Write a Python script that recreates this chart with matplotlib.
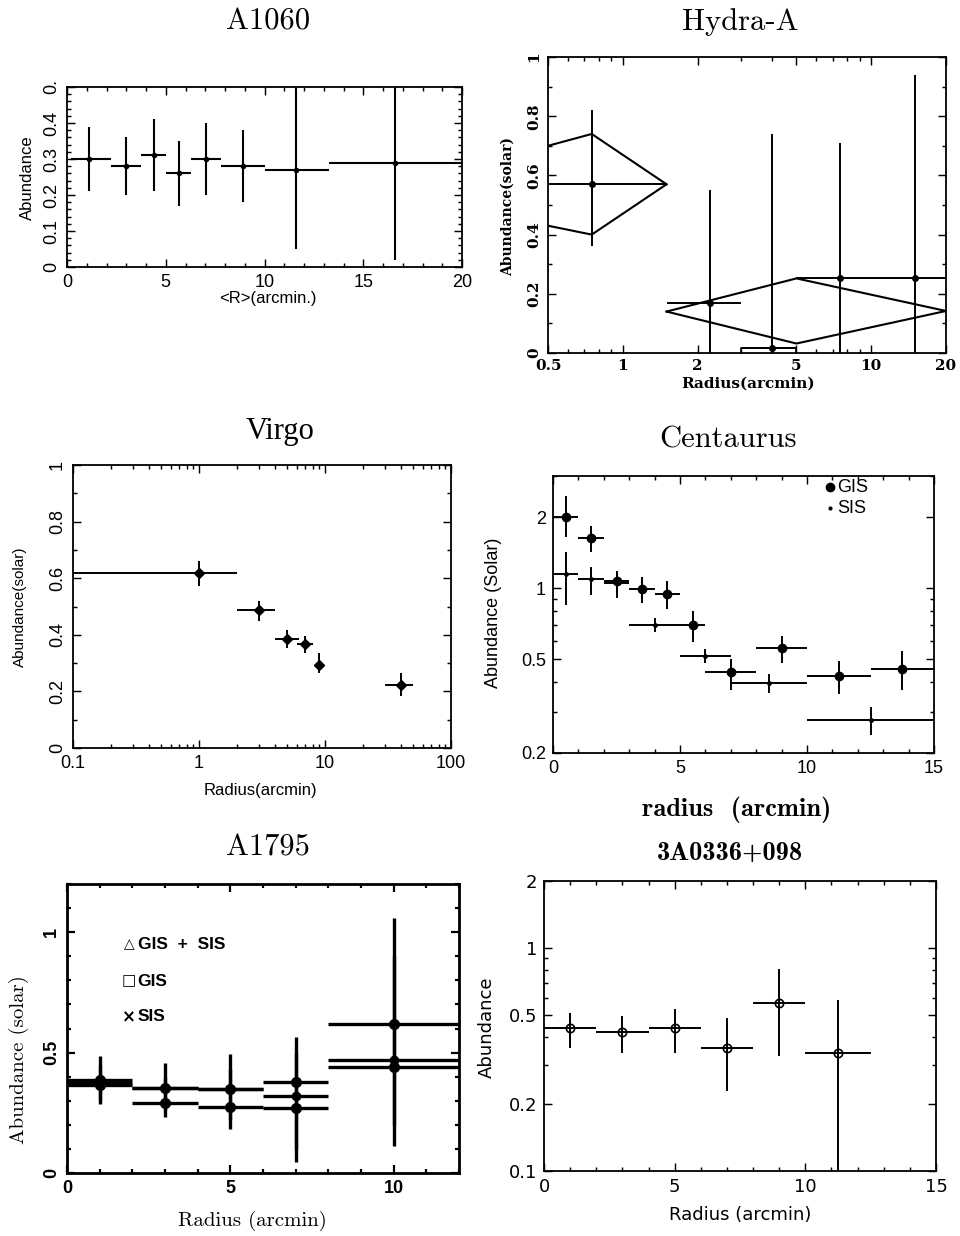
"""
Six abundance-profile panels (A1060, Hydra-A, Virgo, Centaurus, A1795, 3A0336+098).
Values read off a scanned figure; each panel is placed at its pixel box.
"""
import matplotlib

matplotlib.use("Agg")
import matplotlib.pyplot as plt
import numpy as np
from matplotlib.ticker import LogLocator, MultipleLocator, NullFormatter

W, H = 960, 1236
plt.rcParams["font.family"] = ["Liberation Sans", "DejaVu Sans"]

# ---- A1060 ----------------------------------------------------------------- #
a1060_r = [1.1, 3.0, 4.4, 5.65, 7.05, 8.9, 11.6, 16.6]
a1060_ab = [0.30, 0.28, 0.31, 0.26, 0.30, 0.28, 0.27, 0.29]
a1060_rlo = [0.2, 2.25, 3.75, 5.0, 6.3, 7.8, 10.05, 13.25]
a1060_rhi = [2.25, 3.75, 5.0, 6.3, 7.8, 10.05, 13.25, 20.0]
a1060_lo = [0.21, 0.20, 0.21, 0.17, 0.20, 0.18, 0.05, 0.02]
a1060_hi = [0.39, 0.36, 0.41, 0.35, 0.40, 0.38, 0.50, 0.55]
a1060_yticks = [0, 0.1, 0.2, 0.3, 0.4, 0.5]
a1060_ylabels = ["0", "0.1", "0.2", "0.3", "0.4", "0."]

# ---- Hydra-A --------------------------------------------------------------- #
hyd_r = [0.75, 2.25, 4.0, 7.5, 15.0]
hyd_ab = [0.57, 0.17, 0.017, 0.252, 0.252]
hyd_rlo = [0.5, 1.5, 3.0, 5.0, 10.0]
hyd_rhi = [1.5, 3.0, 5.0, 10.0, 20.0]
hyd_lo = [0.36, 0.0, 0.0, 0.0, 0.0]
hyd_hi = [0.82, 0.55, 0.74, 0.71, 0.94]
# model envelopes (upper / lower curves)
hyd_env1_r = [0.5, 0.75, 1.5]
hyd_env1_up = [0.70, 0.74, 0.57]
hyd_env1_dn = [0.43, 0.40, 0.57]
hyd_env2_r = [1.5, 5.0, 20.0]
hyd_env2_up = [0.14, 0.252, 0.142]
hyd_env2_dn = [0.14, 0.032, 0.142]
hyd_xticks = [0.5, 1, 2, 5, 10, 20]
hyd_xlabels = ["0.5", "1", "2", "5", "10", "20"]
hyd_yticks = [0, 0.2, 0.4, 0.6, 0.8, 1.0]
hyd_ylabels = ["0", "0.2", "0.4", "0.6", "0.8", "1"]

# ---- Virgo ----------------------------------------------------------------- #
vir_r = [1.0, 3.0, 5.0, 7.0, 9.0, 40.0]
vir_ab = [0.62, 0.488, 0.386, 0.366, 0.294, 0.222]
vir_rlo = [0.1, 2.0, 4.0, 6.0, 8.5, 30.0]
vir_rhi = [2.0, 4.0, 6.2, 8.0, 9.5, 50.0]
vir_lo = [0.571, 0.448, 0.354, 0.335, 0.266, 0.182]
vir_hi = [0.661, 0.518, 0.416, 0.394, 0.335, 0.265]
vir_xticks = [0.1, 1, 10, 100]
vir_xlabels = ["0.1", "1", "10", "100"]
vir_yticks = [0, 0.2, 0.4, 0.6, 0.8, 1.0]
vir_ylabels = ["0", "0.2", "0.4", "0.6", "0.8", "1"]

# ---- Centaurus ------------------------------------------------------------- #
cen_gis_r = [0.5, 1.5, 2.5, 3.5, 4.5, 5.5, 7.0, 9.0, 11.25, 13.75]
cen_gis_ab = [2.0, 1.63, 1.07, 0.995, 0.95, 0.70, 0.44, 0.56, 0.425, 0.455]
cen_gis_rlo = [0, 1, 2, 3, 4, 5, 6, 8, 10, 12.5]
cen_gis_rhi = [1, 2, 3, 4, 5, 6, 8, 10, 12.5, 15]
cen_gis_lo = [1.65, 1.43, 0.91, 0.87, 0.82, 0.59, 0.37, 0.48, 0.357, 0.37]
cen_gis_hi = [2.46, 1.84, 1.19, 1.12, 1.08, 0.80, 0.50, 0.63, 0.49, 0.54]
cen_sis_r = [0.5, 1.5, 2.5, 4.0, 6.0, 8.5, 12.5]
cen_sis_ab = [1.15, 1.10, 1.05, 0.70, 0.517, 0.396, 0.275]
cen_sis_rlo = [0, 1, 2, 3, 5, 7, 10]
cen_sis_rhi = [1, 2, 3, 5, 7, 10, 15]
cen_sis_lo = [0.85, 0.94, 0.92, 0.65, 0.48, 0.36, 0.238]
cen_sis_hi = [1.43, 1.23, 1.17, 0.75, 0.555, 0.435, 0.313]
cen_yticks = [0.2, 0.5, 1, 2]
cen_ylabels = ["0.2", "0.5", "1", "2"]

# ---- A1795 ----------------------------------------------------------------- #
a1795_r = [1, 3, 5, 7, 10]
a1795_rlo = [0, 2, 4, 6, 8]
a1795_rhi = [2, 4, 6, 8, 12]
a1795_both = [0.375, 0.352, 0.349, 0.321, 0.470]
a1795_gis = [0.385, 0.352, 0.349, 0.379, 0.619]
a1795_sis = [0.365, 0.291, 0.273, 0.270, 0.441]
a1795_gis_lo = [0.30, 0.26, 0.22, 0.10, 0.20]
a1795_gis_hi = [0.484, 0.455, 0.494, 0.563, 1.059]
a1795_sis_lo = [0.287, 0.234, 0.183, 0.046, 0.114]
a1795_sis_hi = [0.45, 0.40, 0.43, 0.50, 0.90]

# ---- 3A0336+098 ------------------------------------------------------------ #
a03_r = [1, 3, 5, 7, 9, 11.25]
a03_ab = [0.44, 0.42, 0.44, 0.357, 0.57, 0.34]
a03_rlo = [0, 2, 4, 6, 8, 10]
a03_rhi = [2, 4, 6, 8, 10, 12.5]
a03_lo = [0.357, 0.337, 0.337, 0.229, 0.329, 0.09]
a03_hi = [0.513, 0.496, 0.533, 0.484, 0.803, 0.585]
a03_yticks = [0.1, 0.2, 0.5, 1, 2]
a03_ylabels = ["0.1", "0.2", "0.5", "1", "2"]


def place(fig, left, top, right, bottom):
    return fig.add_axes([left / W, 1 - bottom / H, (right - left) / W, (bottom - top) / H])


def ftext(fig, x, y, s, **kw):
    kw.setdefault("ha", "center")
    kw.setdefault("va", "center")
    return fig.text(x / W, 1 - y / H, s, **kw)


def frame(ax, lw=1.3, major=6, minor=3, size=12, weight="normal", family=None):
    for sp in ax.spines.values():
        sp.set_linewidth(lw)
    ax.tick_params(which="both", direction="in", top=True, right=True, width=lw * 0.8,
                   labelsize=size, pad=5)
    ax.tick_params(which="major", length=major)
    ax.tick_params(which="minor", length=minor)
    for t in ax.get_xticklabels() + ax.get_yticklabels():
        t.set_fontweight(weight)
        if family:
            t.set_fontfamily(family)


def errbar(ax, x, y, xlo, xhi, ylo, yhi, **kw):
    x, y = np.asarray(x, float), np.asarray(y, float)
    xerr = [x - np.asarray(xlo), np.asarray(xhi) - x]
    yerr = [y - np.asarray(ylo), np.asarray(yhi) - y]
    return ax.errorbar(x, y, xerr=xerr, yerr=yerr, color="black", capsize=0, ls="none", **kw)


fig = plt.figure(figsize=(W / 100, H / 100), dpi=100)

# ---- A1060 ----------------------------------------------------------------- #
ax = place(fig, 67, 87, 462, 267)
errbar(ax, a1060_r, a1060_ab, a1060_rlo, a1060_rhi, a1060_lo, a1060_hi,
       fmt="o", ms=3, elinewidth=1.5)
ax.set_xlim(0, 20)
ax.set_ylim(0, 0.5)
ax.xaxis.set_major_locator(MultipleLocator(5))
ax.xaxis.set_minor_locator(MultipleLocator(1))
ax.set_yticks(a1060_yticks, a1060_ylabels, rotation=90, va="center")
ax.yaxis.set_minor_locator(MultipleLocator(0.02))
frame(ax, size=13)
ftext(fig, 268, 22, "A1060", family="cmr10", fontsize=22)
ftext(fig, 27, 178, "Abundance", rotation=90, fontsize=12)
ftext(fig, 268, 299, "<R>(arcmin.)", fontsize=12)

# ---- Hydra-A --------------------------------------------------------------- #
ax = place(fig, 548, 57, 946, 353)
errbar(ax, hyd_r, hyd_ab, hyd_rlo, hyd_rhi, hyd_lo, hyd_hi, fmt="o", ms=4, elinewidth=1.4)
ax.plot(hyd_env1_r, hyd_env1_up, color="black", lw=1.5)
ax.plot(hyd_env1_r, hyd_env1_dn, color="black", lw=1.5)
ax.plot(hyd_env2_r, hyd_env2_up, color="black", lw=1.5)
ax.plot(hyd_env2_r, hyd_env2_dn, color="black", lw=1.5)
# little box drawn for the innermost-of-the-outer bins
ax.plot([hyd_rlo[2], hyd_rlo[2], hyd_rhi[2], hyd_rhi[2]], [0, hyd_ab[2], hyd_ab[2], 0],
        color="black", lw=1.2)
ax.set_xscale("log")
ax.set_xlim(0.5, 20)
ax.set_ylim(0, 1)
ax.set_xticks(hyd_xticks, hyd_xlabels)
ax.xaxis.set_minor_locator(LogLocator(base=10, subs=np.arange(2, 10)))
ax.xaxis.set_minor_formatter(NullFormatter())
ax.set_yticks(hyd_yticks, hyd_ylabels, rotation=90, va="center")
ax.yaxis.set_minor_locator(MultipleLocator(0.1))
frame(ax, size=11, weight="bold", family="DejaVu Serif")
ax.tick_params(axis="x", pad=4)
ftext(fig, 740, 22, "Hydra-A", family="cmr10", fontsize=22)
ftext(fig, 508, 207, "Abundance(solar)", rotation=90, fontsize=10, fontweight="bold",
      family="DejaVu Serif")
ftext(fig, 748, 384, "Radius(arcmin)", fontsize=11, fontweight="bold", family="DejaVu Serif")

# ---- Virgo ----------------------------------------------------------------- #
ax = place(fig, 73, 465, 451, 748)
errbar(ax, vir_r, vir_ab, vir_rlo, vir_rhi, vir_lo, vir_hi, fmt="D", ms=5, elinewidth=1.4)
ax.set_xscale("log")
ax.set_xlim(0.1, 100)
ax.set_ylim(0, 1)
ax.set_xticks(vir_xticks, vir_xlabels)
ax.xaxis.set_minor_locator(LogLocator(base=10, subs=np.arange(2, 10)))
ax.xaxis.set_minor_formatter(NullFormatter())
ax.set_yticks(vir_yticks, vir_ylabels, rotation=90, va="center")
ax.yaxis.set_minor_locator(MultipleLocator(0.1))
frame(ax, size=13)
ftext(fig, 280, 431, "Virgo", family="Liberation Serif", fontsize=22)
ftext(fig, 20, 607, "Abundance(solar)", rotation=90, fontsize=11)
ftext(fig, 260, 790, "Radius(arcmin)", fontsize=12)

# ---- Centaurus ------------------------------------------------------------- #
ax = place(fig, 553, 476, 934, 753)
errbar(ax, cen_sis_r, cen_sis_ab, cen_sis_rlo, cen_sis_rhi, cen_sis_lo, cen_sis_hi,
       fmt="o", ms=2.5, elinewidth=1.4)
errbar(ax, cen_gis_r, cen_gis_ab, cen_gis_rlo, cen_gis_rhi, cen_gis_lo, cen_gis_hi,
       fmt="o", ms=6, elinewidth=1.4)
ax.set_yscale("log")
ax.set_xlim(0, 15)
ax.set_ylim(0.2, 3.0)
ax.xaxis.set_major_locator(MultipleLocator(5))
ax.xaxis.set_minor_locator(MultipleLocator(1))
ax.set_yticks(cen_yticks, cen_ylabels)
ax.yaxis.set_minor_locator(LogLocator(base=10, subs=np.arange(2, 10)))
ax.yaxis.set_minor_formatter(NullFormatter())
frame(ax, size=13)
ax.plot([0.727], [0.96], "o", ms=6, color="black", transform=ax.transAxes, clip_on=False)
ax.plot([0.727], [0.884], "o", ms=2, color="black", transform=ax.transAxes, clip_on=False)
ax.text(0.745, 0.96, "GIS", transform=ax.transAxes, va="center", fontsize=13)
ax.text(0.745, 0.884, "SIS", transform=ax.transAxes, va="center", fontsize=13)
ftext(fig, 728, 440, "Centaurus", family="cmr10", fontsize=22)
ftext(fig, 493, 613, "Abundance (Solar)", rotation=90, fontsize=13)
ftext(fig, 737, 810, "radius  (arcmin)", family="cmb10", fontsize=19)

# ---- A1795 ----------------------------------------------------------------- #
ax = place(fig, 67, 884, 459, 1173)
errbar(ax, a1795_r, a1795_gis, a1795_rlo, a1795_rhi, a1795_gis_lo, a1795_gis_hi,
       fmt="o", ms=7, elinewidth=2.4)
errbar(ax, a1795_r, a1795_sis, a1795_rlo, a1795_rhi, a1795_sis_lo, a1795_sis_hi,
       fmt="o", ms=7, elinewidth=2.4)
errbar(ax, a1795_r, a1795_both, a1795_rlo, a1795_rhi, a1795_both, a1795_both,
       fmt="o", ms=6, elinewidth=2.4)
ax.set_xlim(0, 12)
ax.set_ylim(0, 1.2)
ax.xaxis.set_major_locator(MultipleLocator(5))
ax.xaxis.set_minor_locator(MultipleLocator(1))
ax.set_yticks([0, 0.5, 1.0], ["0", "0.5", "1"], rotation=90, va="center")
ax.yaxis.set_minor_locator(MultipleLocator(0.1))
frame(ax, lw=2.0, size=13, weight="bold")
legend_font = ["DejaVu Sans"]
ax.text(0.158, 0.792, "\u25b3", transform=ax.transAxes, ha="center", va="center",
        fontsize=10, family=legend_font, fontweight="bold")
ax.text(0.158, 0.664, "\u25a1", transform=ax.transAxes, ha="center", va="center",
        fontsize=11, family=legend_font, fontweight="bold")
ax.text(0.158, 0.540, "\u00d7", transform=ax.transAxes, ha="center", va="center",
        fontsize=12, family=legend_font, fontweight="bold")
ax.text(0.18, 0.789, "GIS  +  SIS", transform=ax.transAxes, va="center",
        fontsize=12.5, fontweight="bold")
ax.text(0.18, 0.664, "GIS", transform=ax.transAxes, va="center", fontsize=12.5, fontweight="bold")
ax.text(0.18, 0.540, "SIS", transform=ax.transAxes, va="center", fontsize=12.5, fontweight="bold")
ftext(fig, 268, 848, "A1795", family="cmr10", fontsize=22)
ftext(fig, 19, 1060, "Abundance (solar)", rotation=90, family="cmr10", fontsize=15)
ftext(fig, 252, 1221, "Radius (arcmin)", family="cmr10", fontsize=15)

# ---- 3A0336+098 ------------------------------------------------------------ #
ax = place(fig, 544, 881, 936, 1171)
errbar(ax, a03_r, a03_ab, a03_rlo, a03_rhi, a03_lo, a03_hi,
       fmt="o", ms=6, mfc="none", mew=1.2, elinewidth=1.4)
ax.set_yscale("log")
ax.set_xlim(0, 15)
ax.set_ylim(0.1, 2.0)
ax.xaxis.set_major_locator(MultipleLocator(5))
ax.xaxis.set_minor_locator(MultipleLocator(1))
ax.set_yticks(a03_yticks, a03_ylabels)
ax.yaxis.set_minor_locator(LogLocator(base=10, subs=np.arange(2, 10)))
ax.yaxis.set_minor_formatter(NullFormatter())
frame(ax, size=13, family="DejaVu Sans")
ftext(fig, 730, 853, "3A0336+098", family="cmb10", fontsize=19)
ftext(fig, 487, 1027, "Abundance", rotation=90, fontsize=13, family="DejaVu Sans")
ftext(fig, 740, 1215, "Radius (arcmin)", fontsize=13, family="DejaVu Sans")

fig.savefig("out.png", dpi=100)
